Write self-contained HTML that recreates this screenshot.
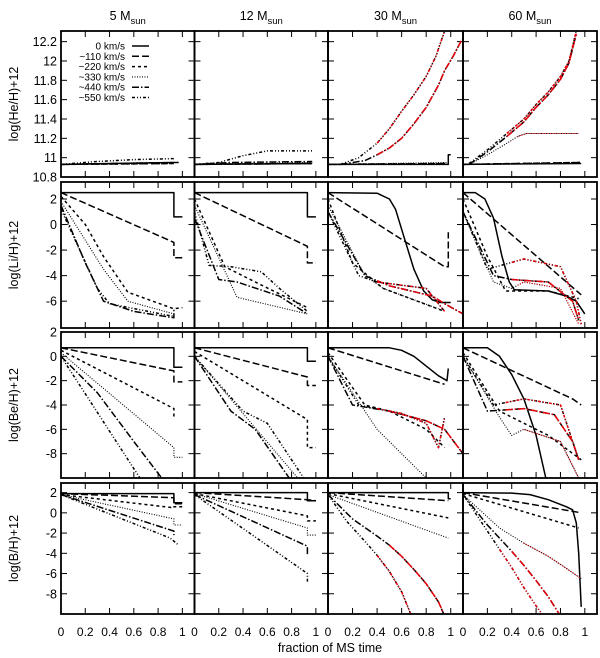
<!DOCTYPE html>
<html><head><meta charset="utf-8"><style>
body{margin:0;background:#fff}
svg{display:block;font-family:"Liberation Sans",sans-serif}
</style></head><body>
<svg id="c" width="600" height="658" xmlns="http://www.w3.org/2000/svg"></svg>
<script>
const masses = ["5","12","30","60"];
const speeds = ["0 km/s","~110 km/s","~220 km/s","~330 km/s","~440 km/s","~550 km/s"];
const rowLabels = ["log(He/H)+12","log(Li/H)+12","log(Be/H)+12","log(B/H)+12"];
const xTicks = [0,0.2,0.4,0.6,0.8,1];
const yTicksHe = [10.8,11,11.2,11.4,11.6,11.8,12,12.2];
const yTicksLi = [2,0,-2,-4,-6];
const yTicksBe = [2,0,-2,-4,-6,-8];
const yTicksB = [2,0,-2,-4,-6,-8];
// series order: 0,110,220,330,440,550 km/s
const he5 = [[[0,10.93],[0.93,10.95],[0.97,10.95]],[[0,10.93],[0.93,10.94]],[[0,10.93],[0.93,10.94]],[[0,10.93],[0.93,10.95]],[[0,10.93],[0.93,10.95]],[[0,10.93],[0.3,10.96],[0.6,10.98],[0.93,10.99]]];
const he12 = [[[0,10.93],[0.97,10.94]],[[0,10.93],[0.97,10.94]],[[0,10.93],[0.97,10.94]],[[0,10.93],[0.97,10.95]],[[0,10.93],[0.3,10.95],[0.97,10.96]],[[0,10.93],[0.2,10.95],[0.4,11.02],[0.6,11.07],[0.97,11.07]]];
const he30 = [[[0,10.93],[0.98,10.93],[0.98,11.03],[1.0,11.03]],[[0,10.93],[0.98,10.94]],[[0,10.93],[0.98,10.94]],[[0,10.93],[0.98,10.95]],[[0.1,10.93],[0.3,10.97],[0.4,11.03],[0.5,11.1],[0.6,11.2],[0.7,11.35],[0.8,11.52],[0.9,11.75],[0.95,11.9],[1.02,12.05],[1.09,12.22]],[[0.1,10.93],[0.25,11.0],[0.4,11.15],[0.5,11.3],[0.6,11.48],[0.7,11.65],[0.8,11.84],[0.88,12.05],[0.95,12.31]]];
const he60 = [[[0,10.93],[0.97,10.94]],[[0,10.93],[0.97,10.95]],[[0,10.93],[0.97,10.95]],[[0.05,10.93],[0.2,11.03],[0.35,11.14],[0.45,11.22],[0.52,11.25],[0.95,11.25]],[[0.05,10.93],[0.2,11.06],[0.36,11.22],[0.5,11.37],[0.6,11.52],[0.7,11.65],[0.8,11.81],[0.87,11.98],[0.93,12.28]],[[0.05,10.94],[0.2,11.08],[0.36,11.25],[0.5,11.4],[0.6,11.55],[0.7,11.68],[0.8,11.84],[0.87,12.0],[0.93,12.31]]];
const li5 = [[[0,2.5],[0.93,2.5],[0.93,0.6],[1.0,0.6]],[[0,2.5],[0.93,-1.4],[0.93,-2.6],[1.0,-2.6]],[[0,2.2],[0.2,0],[0.35,-2.5],[0.55,-5.3],[0.93,-6.6],[1.0,-6.5]],[[0,1.8],[0.35,-3.5],[0.55,-6],[0.93,-7]],[[0,1.5],[0.2,-3],[0.35,-6],[0.6,-6.8],[0.93,-7.3],[0.93,-6.6]],[[0,1.2],[0.3,-5],[0.4,-6.2],[0.93,-7.2]]];
const li12 = [[[0,2.5],[0.93,2.5],[0.93,0.6],[1.0,0.6]],[[0,2.5],[0.93,-1.7],[0.93,-3.0],[1.0,-3.0]],[[0,2.0],[0.25,-3.3],[0.5,-4.5],[0.93,-6.5]],[[0,1.5],[0.35,-5.7],[0.93,-7.0]],[[0,0.5],[0.2,-4.3],[0.35,-4.5],[0.7,-5.6],[0.93,-7.0]],[[0,1.0],[0.12,-3.2],[0.3,-3.3],[0.55,-3.7],[0.7,-5],[0.93,-6.8]]];
const li30 = [[[0,2.5],[0.4,2.45],[0.5,2.0],[0.55,1.2],[0.62,-1],[0.7,-3.5],[0.78,-5.2],[0.85,-5.9],[0.92,-6.1],[1.0,-6.1]],[[0,2.5],[0.95,-3.3],[0.98,-3.3],[0.98,-0.6]],[[0,2],[0.2,-3],[0.45,-5],[0.95,-6.8]],[[0,1.5],[0.3,-4],[0.45,-5],[0.9,-6.6]],[[0,1],[0.3,-4],[0.5,-4.8],[0.85,-5.6],[0.95,-6.2],[1.1,-7]],[[0,1],[0.25,-4],[0.4,-4.5],[0.8,-5],[0.95,-6.8]]];
const li60 = [[[0,2.5],[0.1,2.5],[0.18,2.0],[0.25,0.5],[0.32,-2.5],[0.38,-4.5],[0.42,-5.1],[0.7,-5.2],[0.85,-5.6],[0.93,-6],[1.0,-7]],[[0,2.5],[0.97,-5.5]],[[0,2],[0.2,-2.5],[0.35,-5.2],[0.7,-5.2],[0.95,-5.8]],[[0,1],[0.25,-4.5],[0.4,-5],[0.5,-4.5],[0.8,-5],[0.95,-7.8]],[[0,1],[0.25,-4],[0.4,-4.3],[0.7,-4.5],[0.9,-6],[0.95,-7.5]],[[0,1],[0.2,-3.5],[0.5,-2.7],[0.8,-3.3],[0.93,-6],[0.97,-7.8]]];
const be5 = [[[0,0.7],[0.93,0.7],[0.93,-0.9],[1.0,-0.9]],[[0,0.7],[0.93,-1.2],[0.93,-2.1],[1.0,-2.1]],[[0,0.5],[0.93,-4.3],[0.93,-5.1]],[[0,0.3],[0.93,-7.5],[0.93,-8.3],[1.0,-8.3]],[[0,0],[0.3,-3],[0.6,-7],[0.83,-10]],[[0,0],[0.65,-10]]];
const be12 = [[[0,0.7],[0.93,0.7],[0.93,-0.4],[1.0,-0.4]],[[0,0.7],[0.93,-1.7],[0.93,-2.4],[1.0,-2.4]],[[0,0.4],[0.93,-5.2],[0.93,-7.5],[1.0,-7.5]],[[0,0],[0.85,-10]],[[0,0],[0.3,-4.5],[0.5,-6],[0.78,-10]],[[0,0],[0.4,-4.5],[0.6,-5.5],[0.9,-10]]];
const be30 = [[[0,0.7],[0.5,0.7],[0.6,0.5],[0.7,0],[0.8,-0.8],[0.9,-1.6],[0.97,-2.0],[0.98,-1]],[[0,0.7],[0.95,-2.3]],[[0,0.3],[0.3,-4],[0.5,-4.5],[0.8,-6],[0.95,-7.5]],[[0,0],[0.4,-6],[0.6,-8],[0.8,-10]],[[0,0],[0.2,-4],[0.5,-4.5],[0.8,-5.3],[0.95,-6],[1.1,-8]],[[0,0],[0.25,-4],[0.6,-4.7],[0.8,-5.5],[0.9,-7.5],[0.95,-5]]];
const be60 = [[[0,0.7],[0.2,0.7],[0.3,0],[0.4,-1.5],[0.5,-3.5],[0.6,-6.5],[0.68,-10]],[[0,0.7],[0.9,-3.5],[0.97,-4]],[[0,0.3],[0.3,-4.5],[0.7,-6.5],[0.97,-8.5]],[[0,0],[0.3,-5],[0.4,-6.5],[0.5,-6],[0.8,-7],[0.95,-10]],[[0,0],[0.2,-4.5],[0.5,-4.3],[0.75,-4.8],[0.9,-7],[0.95,-8.5]],[[0,0],[0.25,-4],[0.5,-3.5],[0.8,-4],[0.95,-8.5]]];
const b5 = [[[0,1.9],[0.93,1.9],[0.93,1.0],[1.0,1.0]],[[0,1.9],[0.93,1.5],[0.93,0.9],[1.0,0.9]],[[0,1.8],[0.93,0.5],[0.93,0.6],[1.0,0.6]],[[0,1.8],[0.93,-0.6],[0.93,-1.2],[1.0,-1.2]],[[0,1.8],[0.93,-1.8],[0.93,-2.2]],[[0,1.8],[0.9,-2.5],[0.97,-3.2]]];
const b12 = [[[0,2],[0.93,2],[0.93,1.2],[1.0,1.2]],[[0,2],[0.93,1.3],[1.0,1.2]],[[0,1.9],[0.93,-0.3],[0.93,-0.8],[1.0,-0.8]],[[0,1.9],[0.93,-1.5],[0.93,-2.2],[1.0,-2.2]],[[0,1.8],[0.93,-3.3],[0.93,-4.2]],[[0,1.8],[0.93,-6],[0.93,-6.8]]];
const b30 = [[[0,2],[0.98,2],[0.98,1.4],[1.0,1.4]],[[0,2],[0.98,1.2]],[[0,1.9],[0.98,-0.5]],[[0,1.8],[0.98,-2.5]],[[0,1.8],[0.2,-0.6],[0.4,-2.3],[0.5,-3.2],[0.6,-4.3],[0.7,-5.6],[0.8,-7],[0.9,-8.8],[0.95,-10.2]],[[0,1.8],[0.15,-0.8],[0.3,-2.8],[0.4,-4.2],[0.5,-5.8],[0.6,-7.8],[0.68,-10.2]]];
const b60 = [[[0,2],[0.4,1.95],[0.55,1.8],[0.7,1.3],[0.85,0.6],[0.9,0.3],[0.93,-1],[0.95,-4],[0.97,-9.3]],[[0,2],[0.97,0]],[[0,1.9],[0.95,-1.5]],[[0,1.8],[0.3,-1.5],[0.5,-3],[0.7,-4.3],[0.85,-5.5],[0.97,-6.5]],[[0,1.8],[0.2,-1.2],[0.4,-3.8],[0.5,-5.2],[0.6,-6.7],[0.7,-8.3],[0.8,-10.2]],[[0,1.8],[0.2,-1.8],[0.3,-3.6],[0.4,-5.4],[0.5,-7.4],[0.6,-9.2],[0.66,-10.2]]];
// x value after which series turns red (null = all black)
const red30He = [null,null,null,null,0.4,0.4];
const red60He = [null,null,null,0.45,0.36,0.36];
const red30Li = [null,null,null,null,0.4,0.4];
const red60Li = [null,null,null,0.45,0.4,0.4];
const red30Be = [null,null,null,null,0.5,0.4];
const red60Be = [null,null,null,0.5,0.35,0.35];
const red30B = [null,null,null,null,0.5,0.4];
const red60B = [null,null,null,0.5,0.4,0.3];
const none = [null,null,null,null,null,null];

const NS="http://www.w3.org/2000/svg";
const svg=document.getElementById('c');
function mk(t,a,p){const e=document.createElementNS(NS,t);for(const k in a)e.setAttribute(k,a[k]);(p||svg).appendChild(e);return e;}
const colX=[61,194.5,328,463,597];
const rows=[
 {top:31,bot:177,min:10.8,max:12.31,ticks:yTicksHe,fmt:v=>String(+v.toFixed(1)),data:[he5,he12,he30,he60],red:[none,none,red30He,red60He]},
 {top:182,bot:328,min:-8.1,max:3.33,ticks:yTicksLi,fmt:String,data:[li5,li12,li30,li60],red:[none,none,red30Li,red60Li]},
 {top:332,bot:478,min:-10,max:2,ticks:yTicksBe,fmt:String,data:[be5,be12,be30,be60],red:[none,none,red30Be,red60Be]},
 {top:483,bot:614,min:-10,max:2.95,ticks:yTicksB,fmt:String,data:[b5,b12,b30,b60],red:[none,none,red30B,red60B]}];
const dashes=["", "7,3","3,3","1,1.5","7,2,1.5,2","3,2,1,2,1,2"];
const XMAX=1.1;
rows.forEach((r,ri)=>{
  const ys=v=>r.bot-(v-r.min)/(r.max-r.min)*(r.bot-r.top);
  for(let ci=0;ci<4;ci++){
    const x0=colX[ci],x1=colX[ci+1];
    const xs=v=>x0+v/XMAX*(x1-x0);
    const g=mk('g',{});
    
    
    const cid='cl'+ri+ci;
    const cp=mk('clipPath',{id:cid},g);mk('rect',{x:x0,y:r.top,width:x1-x0,height:r.bot-r.top},cp);
    xTicks.forEach(t=>{const X=xs(t);mk('line',{x1:X,x2:X,y1:r.bot,y2:r.bot-6,stroke:'#000','stroke-width':1},g);mk('line',{x1:X,x2:X,y1:r.top,y2:r.top+6,stroke:'#000','stroke-width':1},g);});
    r.ticks.forEach(t=>{const Y=ys(t);if(Y<r.top-1||Y>r.bot+1)return;mk('line',{x1:x0,x2:x0+6,y1:Y,y2:Y,stroke:'#000','stroke-width':1},g);mk('line',{x1:x1-6,x2:x1,y1:Y,y2:Y,stroke:'#000','stroke-width':1},g);});
    const cg=mk('g',{'clip-path':'url(#'+cid+')'},g);
    r.data[ci].forEach((s,si)=>{
      const pts=s.map(p=>xs(p[0]).toFixed(1)+','+ys(p[1]).toFixed(1)).join(' ');
      const pl=mk('polyline',{points:pts,fill:'none',stroke:'#000','stroke-width':si==3?1.1:1.5,'stroke-dasharray':dashes[si],'stroke-linejoin':'round'},cg);
      
      
      const rf=r.red[ci][si];
      if(rf!==null){
        let seg=[];
        for(let k=0;k<s.length;k++){
          if(s[k][0]>=rf){
            if(seg.length===0&&k>0){const a=s[k-1],b=s[k];const f=(rf-a[0])/(b[0]-a[0]);seg.push([rf,a[1]+f*(b[1]-a[1])]);}
            seg.push(s[k]);
          }
        }
        const rp=mk('polyline',{points:seg.map(p=>xs(p[0]).toFixed(1)+','+ys(p[1]).toFixed(1)).join(' '),fill:'none',stroke:'#e8000b','stroke-width':si==3?1.1:1.5,'stroke-dasharray':dashes[si],'stroke-linejoin':'round'},cg);
        
        
      }
    });
    mk('rect',{x:x0,y:r.top,width:x1-x0,height:r.bot-r.top,fill:'none',stroke:'#000','stroke-width':1.8},g);
    if(ri===3){xTicks.forEach(t=>{const tx=mk('text',{x:xs(t),y:636,'font-size':12,'text-anchor':'middle'},g);tx.textContent=String(t);});}
  }
  const yl=mk('g',{});
  
  
  r.ticks.forEach(t=>{const tx=mk('text',{x:57,y:ys(t)+4.5,'font-size':12.5,'text-anchor':'end'},yl);tx.textContent=r.fmt(t);});
  const lab=mk('text',{x:0,y:0,'font-size':12.5,'text-anchor':'middle',transform:'translate(18,'+((r.top+r.bot)/2)+') rotate(-90)'});
  
  
  lab.textContent=rowLabels[ri];
});
masses.forEach((m,i)=>{
  const cx=(colX[i]+colX[i+1])/2;
  const t=mk('text',{x:cx,y:20,'font-size':12.5,'text-anchor':'middle'});
  
  
  t.innerHTML=m+' M<tspan font-size="9.5" dy="4">sun</tspan>';
});
const xt=mk('text',{x:330,y:652,'font-size':12.5,'text-anchor':'middle'});


xt.textContent='fraction of MS time';
const lg=mk('g',{});


speeds.forEach((s,i)=>{
  const y=46+i*10.3;
  const t=mk('text',{x:125,y:y+3.5,'font-size':10,'text-anchor':'end'},lg);
  
  
  t.textContent=s;
  mk('line',{x1:132,x2:149,y1:y,y2:y,stroke:'#000','stroke-width':i==3?1.1:1.5,'stroke-dasharray':dashes[i]},lg);
});
</script>
</body></html>
